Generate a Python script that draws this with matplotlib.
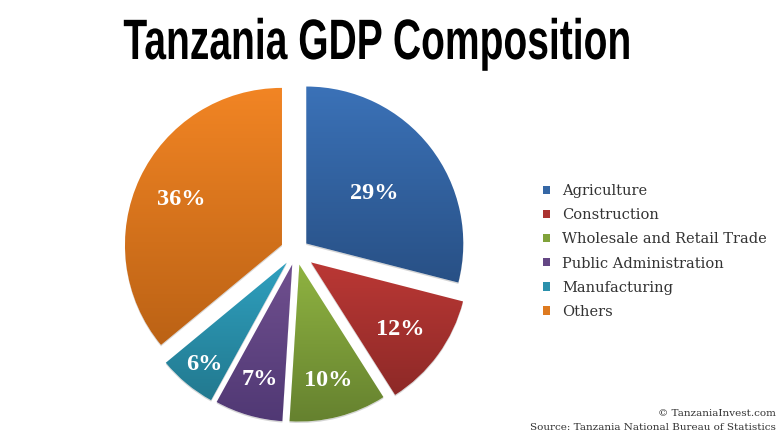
import numpy as np
import matplotlib
matplotlib.use("Agg")
import matplotlib.pyplot as plt
import matplotlib.patheffects as pe
from matplotlib.patches import Patch
from matplotlib.colors import LinearSegmentedColormap
from matplotlib.transforms import Affine2D

categories = ["Agriculture", "Construction", "Wholesale and Retail Trade",
              "Public Administration", "Manufacturing", "Others"]
values = [29, 12, 10, 7, 6, 36]
top_colors = ["#3b72b8", "#bb3835", "#8fb341", "#70508f", "#2fa0bf", "#f28524"]
bottom_colors = ["#285085", "#8d2927", "#65812f", "#503874", "#22798f", "#bb6215"]
legend_colors = ["#3567a5", "#ab3230", "#80a23a", "#644684", "#2b90ac", "#de7a20"]
label_dist = [0.55, 0.70, 0.745, 0.745, 0.82, 0.71]
explode_px = [13, 18.5, 13.5, 13.5, 14.5, 15.5]


class Squeeze(pe.AbstractPathEffect):
    """Narrow a text horizontally around a pixel x, as a condensed face would be."""
    def __init__(self, sx, cx):
        super().__init__()
        self.sx, self.cx = sx, cx

    def draw_path(self, renderer, gc, tpath, affine, rgbFace=None):
        t = affine + Affine2D().translate(-self.cx, 0).scale(self.sx, 1).translate(self.cx, 0)
        renderer.draw_path(gc, tpath, t, rgbFace)


W, H = 777, 437
fig = plt.figure(figsize=(W / 100, H / 100), dpi=100)
ax = fig.add_axes([0, 0, 1, 1])
R = 157
cx, cy = 296, H - 251.5
wedges, _ = ax.pie(values, explode=explode_px, startangle=90, counterclock=False,
                   radius=R, center=(cx, cy), frame=True)
ax.set_xlim(0, W)
ax.set_ylim(0, H)
ax.set_aspect("equal")
ax.axis("off")

for w, top, bot, v, d in zip(wedges, top_colors, bottom_colors, values, label_dist):
    w.set_facecolor("#ffffff")
    w.set_edgecolor("none")
    w.set_path_effects([pe.withSimplePatchShadow(offset=(0, -1), shadow_rgbFace="#888888", alpha=0.35)])
    cmap = LinearSegmentedColormap.from_list("g", [bot, top])
    x0, y0 = w.center
    grad = np.linspace(0, 1, 256).reshape(-1, 1)
    bb = w.get_path().transformed(w.get_patch_transform()).get_extents()
    im = ax.imshow(grad, origin="lower", cmap=cmap, aspect="auto",
                   extent=(bb.x0 - 1, bb.x1 + 1, bb.y0 - 1, bb.y1 + 1), zorder=2)
    im.set_clip_path(w)
    mid = np.radians((w.theta1 + w.theta2) / 2)
    ax.text(x0 + d * R * np.cos(mid), y0 + d * R * np.sin(mid), f"{v}%",
            color="white", fontsize=17.5, fontweight="bold", family="Liberation Serif",
            ha="center", va="center_baseline", zorder=4)
ax.set_xlim(0, W)
ax.set_ylim(0, H)

ax.text(377.5, H - 59, "Tanzania GDP Composition", fontsize=41, fontweight="bold",
        family="Liberation Sans", ha="center", va="baseline", color="#000000",
        path_effects=[Squeeze(0.685, 377.5)])

handles = [Patch(facecolor=c, edgecolor="none") for c in legend_colors]
leg = ax.legend(handles, categories, loc="center left", bbox_to_anchor=(543 / W, 1 - 251.5 / H),
                bbox_transform=fig.transFigure, frameon=False,
                prop={"family": "DejaVu Serif", "size": 10.55},
                handlelength=0.48, handleheight=0.48, handletextpad=0.85,
                labelspacing=0.69, borderpad=0, borderaxespad=0)
for t in leg.get_texts():
    t.set_color("#333333")

ax.text(776, H - 414, "© TanzaniaInvest.com", fontsize=7.5, family="DejaVu Serif",
        ha="right", va="center", color="#333333")
ax.text(776, H - 428, "Source: Tanzania National Bureau of Statistics", fontsize=7.5,
        family="DejaVu Serif", ha="right", va="center", color="#333333")

fig.savefig("out.png", dpi=100, facecolor="white")
